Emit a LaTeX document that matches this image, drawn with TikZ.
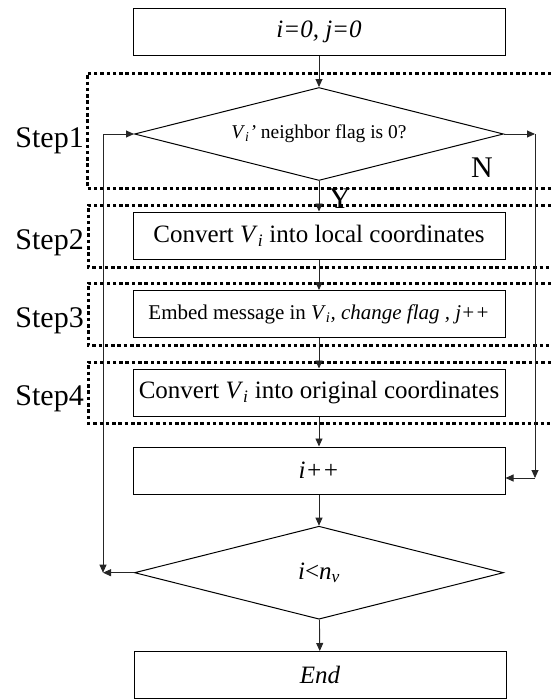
\documentclass[tikz,border=0pt]{standalone}
\usepackage{fontspec}
\setmainfont{Liberation Serif}
\usetikzlibrary{shapes.geometric,arrows.meta,calc}

\newcommand{\Vi}{\textit{V}\textsubscript{\textit{i}}}

\begin{document}
\begin{tikzpicture}[x=1pt,y=-1pt,
  procbox/.style={draw=black,line width=1pt,minimum width=372pt,minimum height=47pt,
    inner sep=0pt,font=\fontsize{25}{30}\selectfont},
  decide/.style={draw=black,line width=1pt,shape=diamond,aspect=4,inner sep=0pt,
    minimum width=369pt,minimum height=93pt},
  arr/.style={draw=black!85,line width=0.9pt,-{Triangle[length=8pt,width=7pt]}},
  stepframe/.style={draw=black,line width=3pt,dash pattern=on 3.5pt off 2.8pt},
  steplabel/.style={anchor=base east,inner sep=0pt,font=\fontsize{30}{34}\selectfont}]

\useasboundingbox (0,0) rectangle (550,699);

% dotted step frames (open on the right side)
\draw[stepframe] (551,73) -- (87,73) -- (87,188) -- (551,188);
\draw[stepframe] (551,205) -- (88,205) -- (88,267) -- (551,267);
\draw[stepframe] (551,283) -- (88,283) -- (88,345) -- (551,345);
\draw[stepframe] (551,362) -- (88,362) -- (88,423) -- (551,423);

% step labels
\node[steplabel] (s1) at (84,147) {Step1};
\node[steplabel] (s2) at (84,249) {Step2};
\node[steplabel] (s3) at (84,327) {Step3};
\node[steplabel] (s4) at (84,405) {Step4};

% flowchart nodes
\node[procbox] (init) at (319,31.5) {\textit{i=0, j=0}};
\node[decide,font=\fontsize{19.5}{22}\selectfont] (d1) at (319,134)
  {\Vi\textit{’} neighbor flag is 0?};
\node[procbox] (conv) at (319,235.5) {Convert \Vi{} into local coordinates};
\node[procbox,font=\fontsize{21}{25}\selectfont] (embed) at (319,314)
  {Embed message in \Vi\textit{, change flag , j++}};
\node[procbox] (back) at (319,392.5) {Convert \Vi{} into original coordinates};
\node[procbox] (inc) at (319,470.5) {\textit{i++}};
\node[decide,font=\fontsize{25}{30}\selectfont] (d2) at (319,572.7)
  {\textit{i}<\textit{n}\textsubscript{\textit{v}}};
\node[procbox] (fin) at (320,675) {\textit{End}};

% branch labels
\node[anchor=base,inner sep=0pt,font=\fontsize{30}{34}\selectfont] (lblN) at (482,177) {N};
\node[anchor=base,inner sep=0pt,font=\fontsize{30}{34}\selectfont] (lblY) at (340,208) {Y};

% bend points of the loops
\coordinate (lt) at (103,134);
\coordinate (lb) at (103,572.7);
\coordinate (rt) at (535,134);
\coordinate (rb) at (535,478);

% main flow
\draw[arr] (init) -- (d1);
\draw[arr] (d1) -- (conv);
\draw[arr] (conv) -- (embed);
\draw[arr] (embed) -- (back);
\draw[arr] (back) -- (inc);
\draw[arr] (inc) -- (d2);
\draw[arr] (d2) -- (fin);

% N branch: skip to i++
\draw[arr] (d1.east) -- (rt);
\draw[arr] (rt) -- (rb);
\draw[arr] (rb) -- (rb -| inc.east);

% loop back to the test
\draw[arr] (d2.west) -- (lb);
\draw[arr] (lt) -- (lb);
\draw[arr] (lt) -- (d1.west);

\end{tikzpicture}
\end{document}
